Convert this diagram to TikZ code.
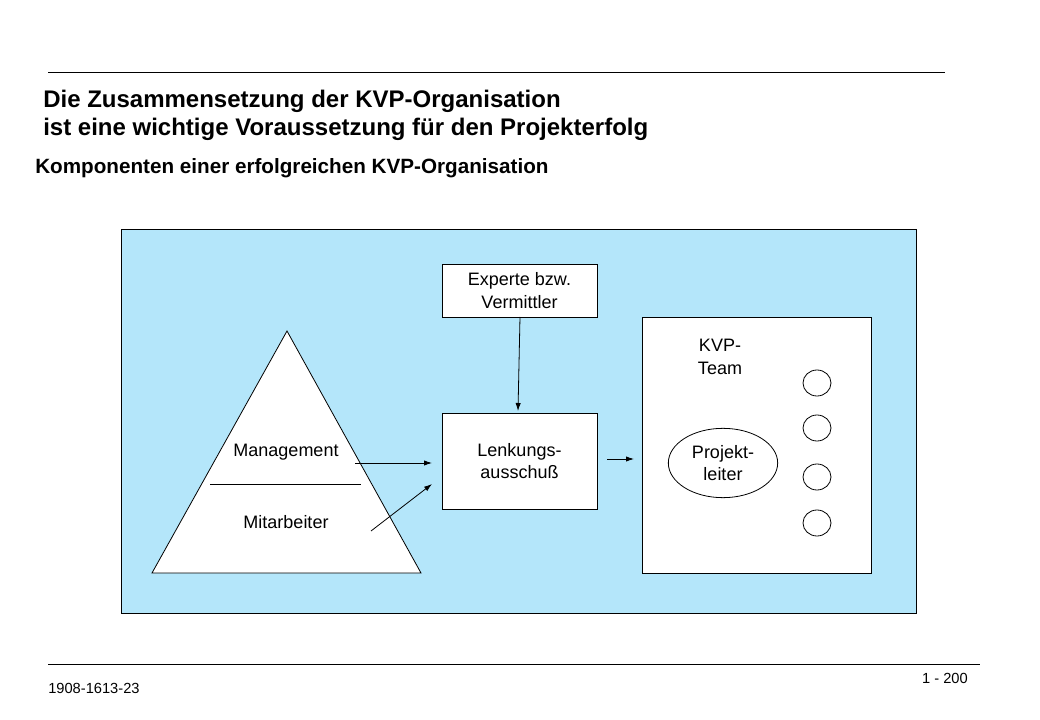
\documentclass[tikz,border=0pt]{standalone}
\usepackage{fontspec}
\setmainfont{Liberation Sans}
\usetikzlibrary{arrows.meta,shapes.geometric}
\definecolor{bg}{HTML}{B4E6FA}
\begin{document}
\begin{tikzpicture}[x=0.75pt,y=-0.75pt,
  lab/.style={font=\fontsize{13.5}{17}\selectfont,align=center},
  box/.style={draw=black,fill=white,line width=0.6pt},
  arr/.style={-{Latex[length=6pt,width=4pt]},line width=0.6pt}]
\useasboundingbox (0,0) rectangle (1040,720);
\draw[line width=0.6pt] (48,72) -- (945,72);
\node[anchor=west,inner sep=0pt,font=\bfseries\fontsize{18}{21}\selectfont,align=left] (title) at (43,115) {Die Zusammensetzung der KVP-Organisation\\ist eine wichtige Voraussetzung für den Projekterfolg};
\node[anchor=west,inner sep=0pt,font=\bfseries\fontsize{15.5}{18}\selectfont] (sub) at (35,168) {Komponenten einer erfolgreichen KVP-Organisation};
\draw[box,fill=bg] (121,229) rectangle (916,613);
\draw[box] (287,331) -- (421,573) -- (152,573) -- cycle;
\draw[line width=0.6pt] (210,484) -- (361,484);
\node[lab] (mgmt) at (286,452) {Management};
\node[lab] (mit) at (286,522) {Mitarbeiter};
\node[box,minimum width=116.25pt,minimum height=39.75pt,lab] (exp) at (519.5,290.5) {Experte bzw.\\Vermittler};
\node[box,minimum width=116.25pt,minimum height=72pt,lab] (lenk) at (519.5,461) {Lenkungs-\\ausschuß};
\node[box,minimum width=171.75pt,minimum height=192pt] (kvp) at (756.5,445) {};
\node[lab] (team) at (720,357) {KVP-\\Team};
\node[box,ellipse,minimum width=82pt,minimum height=52pt,lab,inner sep=0pt] (pl) at (723,463) {Projekt-\\leiter};
\foreach \y/\n in {383/c1,428/c2,477/c3,523/c4}
  \node[box,ellipse,minimum width=21pt,minimum height=19.5pt,inner sep=0pt] (\n) at (817,\y) {};
\coordinate (e1) at (520,317); \coordinate (e2) at (518,411);
\draw[arr] (e1) -- (e2);
\coordinate (m1) at (355,463); \coordinate (m2) at (432,463);
\draw[arr] (m1) -- (m2);
\coordinate (w1) at (371,531); \coordinate (w2) at (432,484);
\draw[arr] (w1) -- (w2);
\coordinate (l1) at (607,459); \coordinate (l2) at (634,459);
\draw[arr] (l1) -- (l2);
\draw[line width=0.6pt] (48,664) -- (980,664);
\node[anchor=west,inner sep=0pt,font=\fontsize{11}{13}\selectfont] (code) at (48,688) {1908-1613-23};
\node[anchor=east,inner sep=0pt,font=\fontsize{11}{13}\selectfont] (page) at (968,678) {1 - 200};
\end{tikzpicture}
\end{document}
